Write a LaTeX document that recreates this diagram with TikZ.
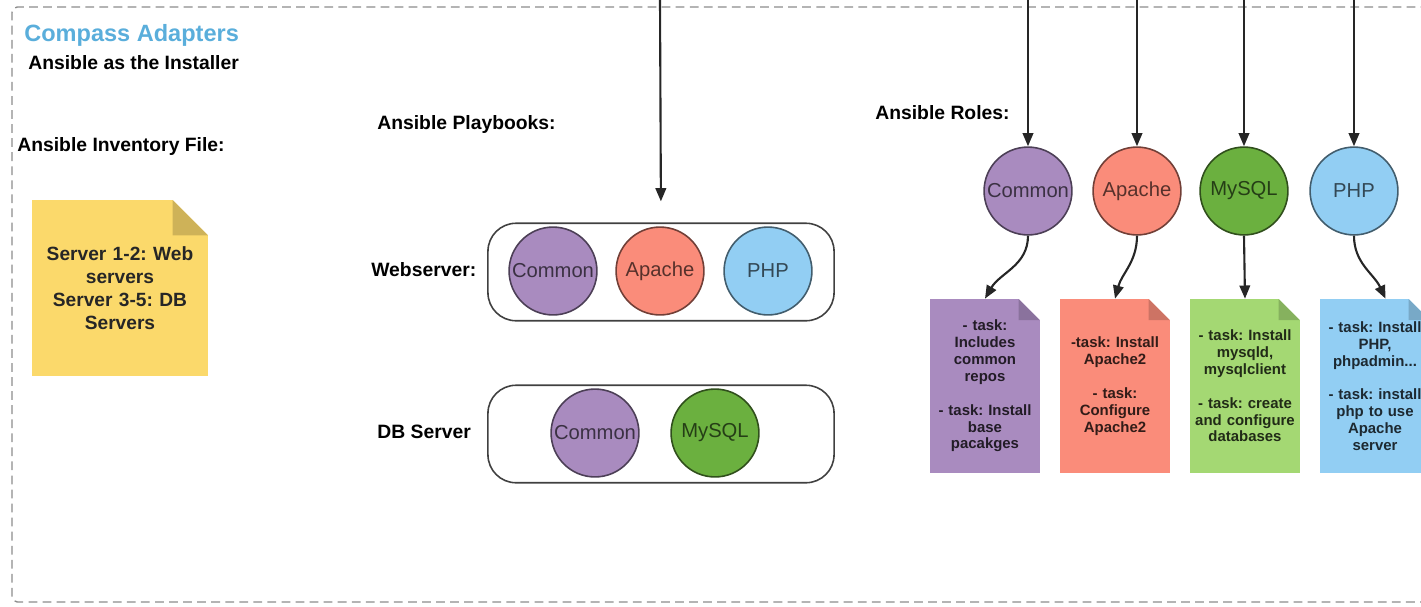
\documentclass[tikz,border=0pt]{standalone}
\usepackage{fontspec}
\setmainfont{Liberation Sans}
\frenchspacing
\usetikzlibrary{arrows.meta}

\definecolor{titleblue}{HTML}{5AAEDB}
\definecolor{cmnfill}{HTML}{A98BBF}
\definecolor{apafill}{HTML}{FA8C7A}
\definecolor{sqlfill}{HTML}{6BB03F}
\definecolor{sqlnote}{HTML}{A4D873}
\definecolor{phpfill}{HTML}{92CEF3}
\definecolor{invfill}{HTML}{FBD96B}

\begin{document}
\begin{tikzpicture}[x=0.02cm,y=0.02cm,
  foldsize/.store in=\foldsz, foldsize=12pt,
  frame/.style={draw=black!45, line width=0.8pt, dash pattern=on 5pt off 3pt, rounded corners=3pt},
  lbl/.style={anchor=west, inner sep=0pt, font=\bfseries\fontsize{11}{13}\selectfont},
  role/.style={circle, fill=#1, draw=#1!45!black, text=#1!35!black, line width=0.9pt,
    minimum size=50pt, inner sep=0pt, font=\fontsize{11.5}{13}\selectfont},
  grp/.style={draw=black!75, line width=0.9pt, rounded corners=16pt,
    minimum width=197pt, minimum height=55.5pt},
  arr/.style={-{Triangle[length=7.5pt,width=6pt]}, line width=1.2pt, draw=black!85},
  notefile/.style={minimum width=62.4pt, minimum height=99pt, inner sep=0pt,
    text width=60pt, align=center, text=#1!20!black,
    font=\bfseries\fontsize{8.5}{9.6}\selectfont,
    path picture={
      \fill[#1] (path picture bounding box.south west) -- (path picture bounding box.north west)
        -- ([xshift=-\foldsz]path picture bounding box.north east)
        -- ([yshift=-\foldsz]path picture bounding box.north east)
        -- (path picture bounding box.south east) -- cycle;
      \fill[#1!82!black] ([xshift=-\foldsz]path picture bounding box.north east)
        -- ([xshift=-\foldsz,yshift=-\foldsz]path picture bounding box.north east)
        -- ([yshift=-\foldsz]path picture bounding box.north east) -- cycle;
    }}]

\clip (0,0) rectangle (1421,-606);

% outer frame
\draw[frame] (12,-602) -- (12,-7) -- (1460,-7) -- (1460,-602) -- cycle;

\node[lbl, font=\bfseries\fontsize{13.4}{15}\selectfont, text=titleblue] (title) at (24,-35) {Compass Adapters};
\node[lbl] (subtitle) at (28,-63) {Ansible as the Installer};

% inventory
\node[lbl] (invlbl) at (17,-146) {Ansible Inventory File:};
\node[notefile=invfill, foldsize=20pt, minimum width=100pt, minimum height=100pt, text width=95pt,
  font=\bfseries\fontsize{10.9}{13}\selectfont, text=black!85] (inv) at (120,-288)
  {Server 1-2: Web\\servers\\Server 3-5: DB\\Servers};

% playbooks
\node[lbl] (pblbl) at (377,-124) {Ansible Playbooks:};
\node[grp] (web) at (661,-272) {};
\node[grp] (db) at (661,-434) {};
\node[lbl] (weblbl) at (371,-270) {Webserver:};
\node[lbl] (dblbl) at (377,-432) {DB Server};

\node[role=cmnfill] (wcmn) at (553,-271) {Common};
\node[role=apafill] (wapa) at (660,-271) {Apache};
\node[role=phpfill] (wphp) at (768,-271) {PHP};
\node[role=cmnfill] (dcmn) at (595,-433) {Common};
\node[role=sqlfill] (dsql) at (715,-433) {MySQL};

\coordinate (pbin) at (660,0);
\draw[arr, shorten >=12pt] (pbin) -- (web.north);

% roles
\node[lbl] (rolelbl) at (875,-113) {Ansible Roles:};
\foreach \nm/\x/\c/\t in {rcmn/1028/cmnfill/Common, rapa/1137/apafill/Apache,
    rsql/1244/sqlfill/MySQL, rphp/1354/phpfill/PHP}{
  \node[role=\c] (\nm) at (\x,-191) {\t};
  \coordinate (\nm-in) at (\x,0);
  \draw[arr] (\nm-in) -- (\nm.north);
}

\node[notefile=cmnfill] (ncmn) at (985,-386)
  {- task:\\Includes\\common\\repos\\[9.6pt]- task: Install\\base\\pacakges\\[6pt]};
\node[notefile=apafill] (napa) at (1115,-386)
  {-task: Install\\Apache2\\[9.6pt]- task:\\Configure\\Apache2};
\node[notefile=sqlnote] (nsql) at (1245,-386)
  {- task: Install\\mysqld,\\mysqlclient\\[9.6pt]- task: create\\and configure\\databases};
\node[notefile=phpfill] (nphp) at (1375,-386)
  {- task: Install\\PHP,\\phpadmin...\\[9.6pt]- task: install\\php to use\\Apache\\server};

\draw[arr] (rcmn.south) to[out=-90,in=60] (ncmn.north);
\draw[arr] (rapa.south) to[out=-90,in=75] (napa.north);
\draw[arr] (rsql.south) -- (nsql.north);
\draw[arr] (rphp.south) to[out=-90,in=115] ([xshift=6pt]nphp.north);

\end{tikzpicture}
\end{document}
